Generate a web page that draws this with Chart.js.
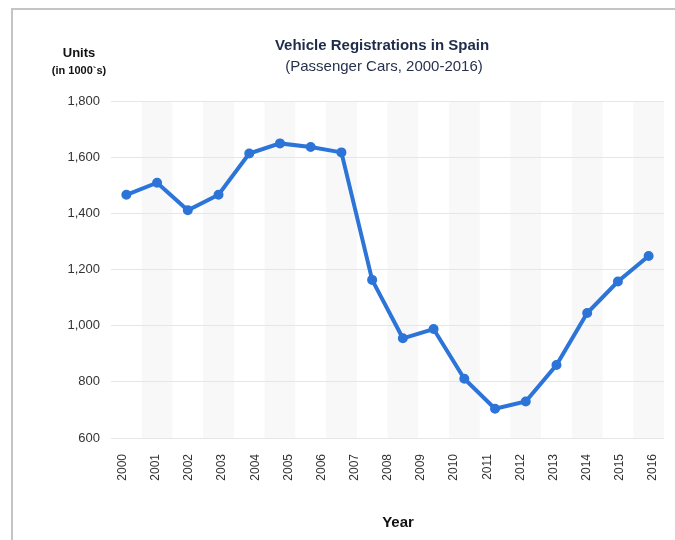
<!DOCTYPE html>
<html>
<head>
<meta charset="utf-8">
<title>Vehicle Registrations in Spain</title>
<script src="https://cdn.jsdelivr.net/npm/chart.js@4/dist/chart.umd.min.js"></script>
<style>
  html, body { margin: 0; padding: 0; background: #ffffff; }
  #wrap { position: relative; width: 675px; height: 540px; }
  #frame {
    position: absolute; left: 11px; top: 8px; right: 0; bottom: 0;
    border-left: 2px solid #c4c4c4; border-top: 2px solid #c4c4c4;
    pointer-events: none;
  }
  canvas { position: absolute; left: 0; top: 0; }
</style>
</head>
<body>
<div id="wrap">
  <canvas id="chart" width="675" height="540"></canvas>
  <div id="frame"></div>
</div>
<script>
// Year labels shown along the bottom axis
const years = ['2000','2001','2002','2003','2004','2005','2006','2007','2008',
               '2009','2010','2011','2012','2013','2014','2015','2016'];

// Registrations (thousands of passenger cars), one value per plotted point
const registrations = [1466, 1509, 1411, 1466, 1613, 1649, 1636, 1617, 1163,
                       955, 988, 811, 704, 730, 860, 1045, 1157, 1248];

// Value axis ticks
const yTicks = [600, 800, 1000, 1200, 1400, 1600, 1800];

const pointIndex = registrations.map((_, i) => i);

// Shaded vertical bands behind every other plotted column
const columnBands = {
  id: 'columnBands',
  beforeDraw(chart) {
    const { ctx, chartArea } = chart;
    const x = chart.scales.x;
    ctx.save();
    ctx.fillStyle = '#f8f8f8';
    for (let i = 1; i < registrations.length; i += 2) {
      const l = x.getPixelForValue(i - 0.5);
      const r = x.getPixelForValue(i + 0.5);
      ctx.fillRect(l, chartArea.top, r - l, chartArea.bottom - chartArea.top);
    }
    ctx.restore();
  }
};

// Heading, unit note and axis caption
const headings = {
  id: 'headings',
  afterDraw(chart) {
    const { ctx } = chart;
    ctx.save();
    ctx.textAlign = 'center';
    ctx.textBaseline = 'middle';
    ctx.fillStyle = '#1e2c4a';
    ctx.font = 'bold 15px "Liberation Sans", Arial, sans-serif';
    ctx.fillText('Vehicle Registrations in Spain', 382, 46);
    ctx.fillStyle = '#27324d';
    ctx.font = '15px "Liberation Sans", Arial, sans-serif';
    ctx.fillText('(Passenger Cars, 2000-2016)', 384, 67);
    ctx.fillStyle = '#111111';
    ctx.font = 'bold 13px "Liberation Sans", Arial, sans-serif';
    ctx.fillText('Units', 79, 53);
    ctx.font = 'bold 11px "Liberation Sans", Arial, sans-serif';
    ctx.fillText('(in 1000`s)', 79, 71);
    ctx.font = 'bold 15px "Liberation Sans", Arial, sans-serif';
    ctx.fillText('Year', 398, 523);
    ctx.restore();
  }
};

new Chart(document.getElementById('chart'), {
  type: 'line',
  data: {
    datasets: [{
      data: pointIndex.map(i => ({ x: i, y: registrations[i] })),
      borderColor: '#2c74d8',
      backgroundColor: '#2c74d8',
      borderWidth: 4,
      pointRadius: 3,
      pointHoverRadius: 3,
      tension: 0,
      clip: false,
      xAxisID: 'x',
      yAxisID: 'y'
    }]
  },
  options: {
    responsive: false,
    animation: false,
    events: [],
    layout: { padding: { left: 61, right: 11, top: 101, bottom: 42 } },
    plugins: { legend: { display: false }, tooltip: { enabled: false }, title: { display: false } },
    scales: {
      x: {
        type: 'linear',
        display: false,
        min: -0.5,
        max: registrations.length - 0.5
      },
      years: {
        type: 'linear',
        position: 'bottom',
        min: -0.353,
        max: 16.33,
        afterFit(scale) {
          scale.height = 60;
          scale.paddingLeft = 0;
          scale.paddingRight = 0;
        },
        afterBuildTicks(scale) {
          scale.ticks = years.map((_, i) => ({ value: i }));
        },
        grid: { display: false, drawTicks: false },
        border: { display: false },
        ticks: {
          autoSkip: false,
          minRotation: 90,
          maxRotation: 90,
          padding: 16,
          color: '#333333',
          font: { family: '"Liberation Sans", Arial, sans-serif', size: 12 },
          callback: (v) => years[v]
        }
      },
      y: {
        type: 'linear',
        min: yTicks[0],
        max: yTicks[yTicks.length - 1],
        afterFit(scale) {
          scale.width = 50;
          scale.paddingTop = 0;
          scale.paddingBottom = 0;
        },
        afterBuildTicks(scale) {
          scale.ticks = yTicks.map(v => ({ value: v }));
        },
        grid: { color: '#e6e6e6', lineWidth: 1, drawTicks: false },
        border: { display: false },
        ticks: {
          padding: 11,
          color: '#333333',
          font: { family: '"Liberation Sans", Arial, sans-serif', size: 13 },
          callback: (v) => v.toLocaleString('en-US')
        }
      }
    }
  },
  plugins: [columnBands, headings]
});
</script>
</body>
</html>
